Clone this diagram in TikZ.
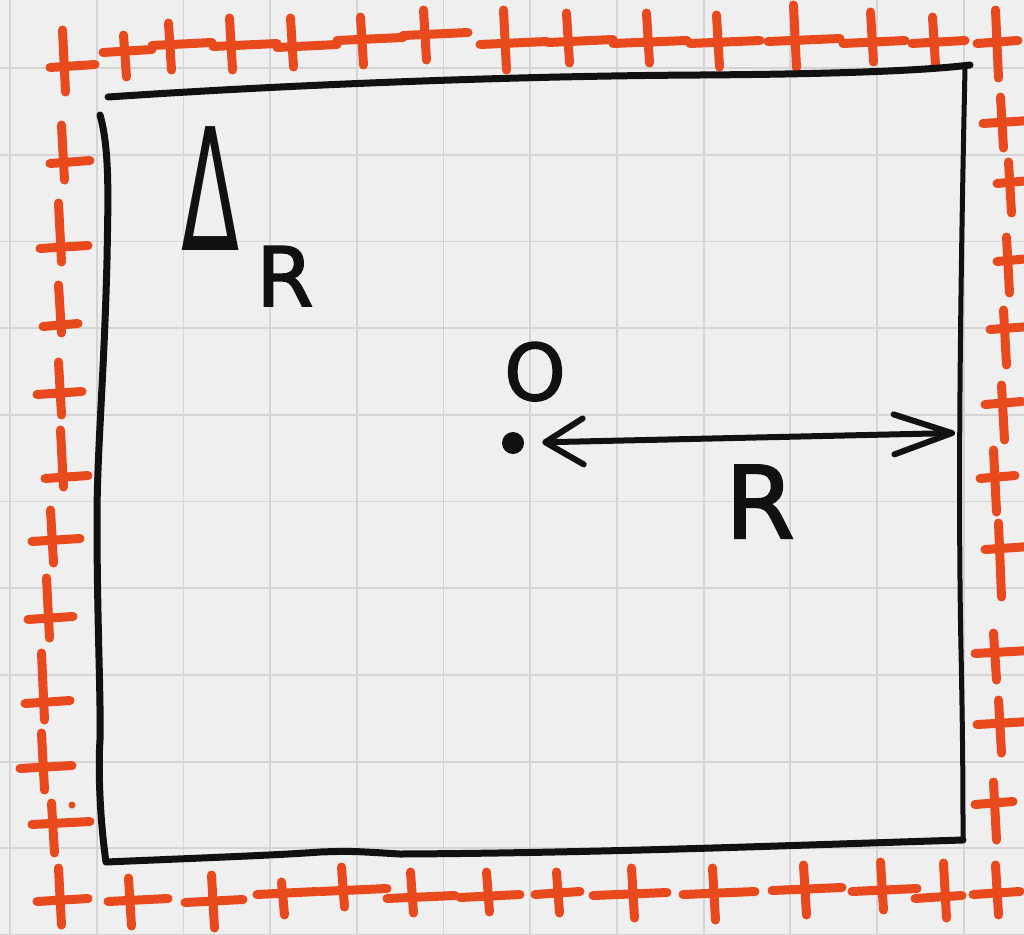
\documentclass[tikz,border=0pt]{standalone}
\usepackage{fontspec}
\setmainfont{DejaVu Sans}
\newfontfamily\handfont{DejaVu Sans}[FakeBold=2]
\usetikzlibrary{arrows.meta}
\definecolor{paper}{HTML}{EFEFEF}
\definecolor{gridc}{HTML}{D5D5D5}
\definecolor{redc}{HTML}{E84A1E}
\definecolor{inkc}{HTML}{111111}
\begin{document}
\begin{tikzpicture}[x=1pt,y=-1pt,
  box/.style={draw=inkc,line width=6pt,line cap=round,line join=round},
  plus/.style={draw=redc,line width=9pt,line cap=round},
  gridln/.style={draw=gridc,line width=1.8pt},
  lbl/.style={inner sep=0pt,text=inkc,anchor=base}]
\useasboundingbox (0,0) rectangle (1024,934);
\clip (0,0) rectangle (1024,934);
\fill[paper] (0,0) rectangle (1024,934);
\foreach \i in {0,...,11} \draw[gridln] ({10+86.7*\i},0) -- ({10+86.7*\i},934);
\foreach \j in {0,...,10} \draw[gridln] (0,{68+86.7*\j}) -- (1024,{68+86.7*\j});
% red crosses: hx1/hx2/hy/vx/vy1/vy2
\foreach \a/\b/\c/\d/\e/\f in {
 50/95/66/64/30/92, 103/152/51/125/35/77, 152/212/44/170/23/70, 213/277/45/231/18/70,
 277/337/46/292/18/67, 337/403/39/362/17/65, 403/468/34/425/10/60, 480/547/43/505/10/70,
 548/613/41/568/13/63, 613/687/42/648/13/63, 690/760/42/718/15/67, 768/840/40/795/5/68,
 843/905/42/872/12/62, 912/965/42/934/17/65, 977/1018/42/997/10/78,
 37/88/900/60/868/925, 108/168/900/130/878/926, 185/243/901/213/875/928, 257/317/893/283/882/915,
 320/387/890/343/867/907, 387/455/897/412/872/913, 460/520/896/488/872/912, 535/580/893/558/872/913,
 593/667/894/633/868/918, 683/755/893/714/868/920, 772/842/889/805/865/915, 852/917/890/882/862/910,
 915/962/897/945/863/918, 973/1020/893/997/865/915,
 50/90/162/63/125/180, 40/88/247/60/203/262, 43/78/325/60/285/333, 37/82/393/60/362/415,
 45/88/477/62/430/487, 32/80/540/52/510/563, 28/73/618/48/578/638, 25/70/702/43/653/720,
 20/72/767/43/733/790, 32/90/823/53/803/853,
 983/1030/122/1002/97/148, 997/1030/182/1010/162/213, 997/1030/260/1008/237/293,
 990/1030/328/1005/310/365, 985/1022/403/1003/385/440, 980/1015/477/995/450/512,
 985/1030/548/1000/523/597, 975/1030/652/995/633/680, 977/1030/723/1000/700/753,
 975/1013/803/995/782/840}
{\draw[plus] (\a,\c+1.5) -- (\b,\c-1.5); \draw[plus] (\d-1.5,\e) -- (\d+1.5,\f);}
\fill[redc] (72,805) circle (3.5);
% box
\draw[box,line width=7pt] (108,97) .. controls (300,84) and (520,76) .. (700,75) .. controls (850,74) and (930,70) .. (970,65);
\draw[box,line width=5pt] (965,68) .. controls (960,300) and (958,500) .. (961,650) .. controls (963,750) and (963,800) .. (963,840);
\draw[box,line width=5pt] (100,115) .. controls (110,150) and (108,200) .. (107,260) .. controls (104,380) and (97,450) .. (97,520) .. controls (97,620) and (101,700) .. (100,740) .. controls (98,770) and (100,820) .. (106,862)
  [line width=7pt] .. controls (200,858) and (280,855) .. (320,852) .. controls (350,851) .. (400,854) .. controls (600,853) and (800,845) .. (963,840);
% centre and radius
\node[circle,fill=inkc,inner sep=0pt,minimum size=22pt] (o) at (513,443) {};
\coordinate (w) at (955,433);
\draw[inkc,line width=6pt,line cap=round,{Straight Barb[length=38pt,width=46pt,round]}-{Straight Barb[length=58pt,width=40pt,round]},shorten <=18pt] (o) -- (w);
% labels
\node[lbl,font=\fontsize{170}{170}\selectfont,xscale=0.5] (delta) at (211,250) {Δ};
\node[lbl,font=\handfont\fontsize{82}{82}\selectfont] (rsub) at (285,306) {R};
\node[lbl,font=\handfont\fontsize{78}{78}\selectfont] (oname) at (535,400) {O};
\node[lbl,font=\handfont\fontsize{100}{100}\selectfont] (rlen) at (760,538) {R};
\end{tikzpicture}
\end{document}
